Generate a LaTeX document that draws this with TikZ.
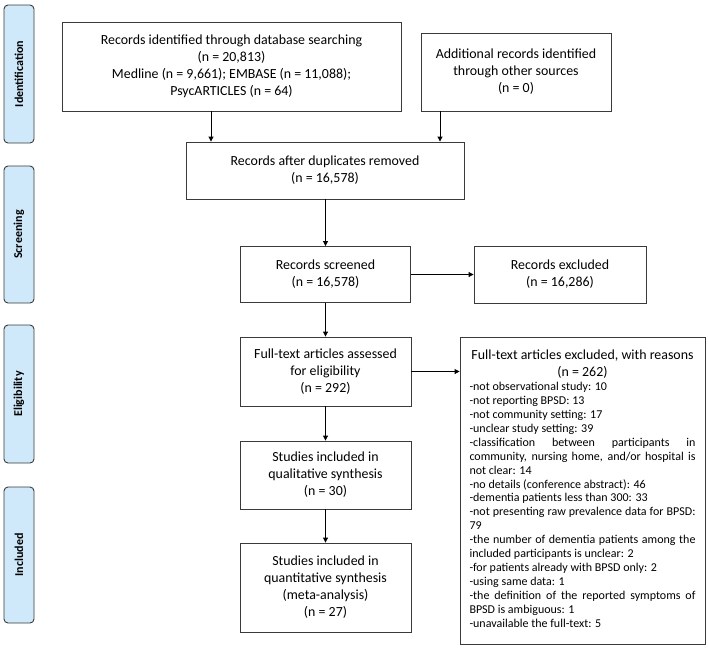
\documentclass[tikz,border=0pt]{standalone}
\usepackage{fontspec}
\setmainfont{Carlito}
\usetikzlibrary{arrows.meta,calc}
\definecolor{sidefill}{HTML}{CFE9FA}
\definecolor{boxline}{HTML}{3A3A3A}
\tikzset{
  box/.style={draw=boxline, line width=0.9pt, inner sep=0pt, align=center,
    font=\fontsize{13.9}{17}\selectfont},
  sidelab/.style={draw=boxline, fill=sidefill, line width=0.9pt, rounded corners=4pt,
    inner sep=0pt, minimum height=30pt, rotate=90, font=\fontsize{12}{14}\selectfont\bfseries},
  arr/.style={-{Triangle[length=5pt,width=5pt]}, line width=0.9pt, black},
}
\begin{document}
\begin{tikzpicture}[x=1pt,y=1pt]
\useasboundingbox (0,0) rectangle (708,-649);
% side labels
\node[sidelab, minimum width=138pt] (sid) at (19,-74) {Identification};
\node[sidelab, minimum width=137pt] (ssc) at (19,-234.5) {Screening};
\node[sidelab, minimum width=138pt] (sel) at (19,-394) {Eligibility};
\node[sidelab, minimum width=136pt] (sin) at (19,-555) {Included};
% boxes
\node[box, minimum width=339pt, minimum height=89pt] (b1) at (231.5,-66.5)
  {Records identified through database searching\\(n = 20,813)\\Medline (n = 9,661); EMBASE (n = 11,088);\\PsycARTICLES (n = 64)};
\node[box, minimum width=190pt, minimum height=78pt] (b2) at (516,-72)
  {Additional records identified\\through other sources\\(n = 0)};
\node[box, minimum width=278pt, minimum height=57pt] (b3) at (325,-170.5)
  {Records after duplicates removed\\(n = 16,578)};
\node[box, minimum width=170pt, minimum height=56pt] (b4) at (325.5,-274.5)
  {Records screened\\(n = 16,578)};
\node[box, minimum width=172pt, minimum height=57pt] (b5) at (560,-274.5)
  {Records excluded\\(n = 16,286)};
\node[box, minimum width=171pt, minimum height=69pt] (b6) at (325.5,-371.5)
  {Full-text articles assessed\\for eligibility\\(n = 292)};
\node[box, minimum width=171pt, minimum height=68pt] (b8) at (325.5,-475)
  {Studies included in\\qualitative synthesis\\(n = 30)};
\node[box, minimum width=171pt, minimum height=89pt] (b9) at (325.5,-587.5)
  {Studies included in\\quantitative synthesis\\(meta-analysis)\\(n = 27)};
\node[box, minimum width=245pt, minimum height=307pt] (b7) at (582.5,-490.5) {};
\node[anchor=north, inner sep=0pt, text width=226pt, align=justify] (b7t) at ($(b7.north)+(0,-13)$)
  {\setlength\parindent{0pt}%
   {\centering\fontsize{13.9}{17}\selectfont Full-text articles excluded, with reasons\\(n = 262)\par}%
   \fontsize{12}{13.95}\selectfont
   -not observational study: 10\par
   -not reporting BPSD: 13\par
   -not community setting: 17\par
   -unclear study setting: 39\par
   -classification between participants in\linebreak community, nursing home, and/or hospital is\linebreak not clear: 14\par
   -no details (conference abstract): 46\par
   -dementia patients less than 300: 33\par
   -not presenting raw prevalence data for BPSD:\linebreak 79\par
   -the number of dementia patients among the\linebreak included participants is unclear: 2\par
   -for patients already with BPSD only: 2\par
   -using same data: 1\par
   -the definition of the reported symptoms of\linebreak BPSD is ambiguous: 1\par
   -unavailable the full-text: 5\par};
% arrows
\coordinate (xa) at (211,0);
\coordinate (xb) at (440,0);
\draw[arr] (b1.south -| xa) -- (b3.north -| xa);
\draw[arr] (b2.south -| xb) -- (b3.north -| xb);
\draw[arr] (b3.south -| b4.north) -- (b4.north);
\draw[arr] (b4.east) -- (b5.west);
\draw[arr] (b4.south) -- (b6.north);
\draw[arr] (b6.east) -- (b6.east -| b7.west);
\draw[arr] (b6.south) -- (b8.north);
\draw[arr] (b8.south) -- (b9.north);
\end{tikzpicture}
\end{document}
